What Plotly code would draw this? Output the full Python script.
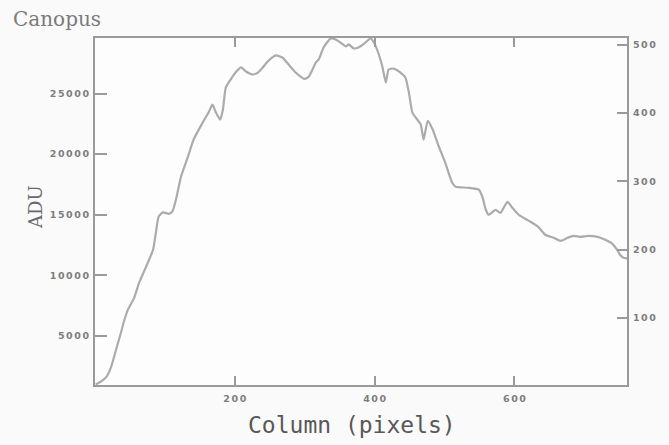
import plotly.graph_objects as go

# Spatial profile of Canopus along the detector columns
columns = [1, 10, 16, 23, 30, 37, 42, 47, 56, 63, 73, 83, 87, 91, 97, 106, 111, 116,
           123, 133, 141, 154, 163, 168, 173, 179, 183, 187, 194, 201, 209, 216, 226,
           233, 240, 247, 259, 268, 277, 287, 294, 300, 306, 316, 320, 327, 337, 344,
           351, 359, 363, 370, 377, 387, 394, 399, 406, 411, 416, 420, 427, 437, 444,
           449, 454, 461, 466, 470, 476, 483, 491, 501, 511, 516, 533, 549, 554, 559,
           563, 573, 580, 590, 597, 606, 623, 634, 644, 656, 666, 676, 684, 694, 706,
           719, 730, 740, 747, 751, 756, 761]
adu = [1000, 1300, 1610, 2440, 3840, 5250, 6320, 7150, 8140, 9380, 10700, 12100, 13500,
       14840, 15200, 15080, 15300, 16300, 18140, 19790, 21200, 22600, 23500, 24090,
       23430, 22850, 23680, 25490, 26150, 26730, 27150, 26820, 26570, 26730, 27150,
       27640, 28140, 27970, 27390, 26730, 26400, 26200, 26400, 27560, 27810, 28800,
       29540, 29460, 29210, 28890, 29050, 28720, 28800, 29210, 29540, 29210, 28220,
       27230, 25900, 26980, 27060, 26730, 26320, 25080, 23430, 22850, 22440, 21200,
       22750, 22030, 20750, 19300, 17640, 17310, 17230, 17070, 16490, 15410, 15000,
       15410, 15160, 16070, 15580, 15000, 14420, 14000, 13350, 13100, 12850, 13100,
       13260, 13180, 13260, 13180, 12930, 12600, 12100, 11700, 11450, 11400]

x_ticks = [200, 400, 600]
y_ticks = [5000, 10000, 15000, 20000, 25000]
y2_ticks = [100, 200, 300, 400, 500]


def spaced(v):
    # widen the digit spacing of tick labels
    return "\u2006".join(str(v))


AXIS = "#9a9a9a"
LABEL = "#7d7d7d"
tickfont = dict(family="DejaVu Sans", size=9.5, color=LABEL, weight="bold")

fig = go.Figure()
fig.add_trace(go.Scatter(x=columns, y=adu, mode="lines",
                         line=dict(color="#ababab", width=2.2, shape="spline", smoothing=0.5),
                         showlegend=False, hoverinfo="skip"))
fig.add_trace(go.Scatter(x=[], y=[], yaxis="y2", showlegend=False))

fig.update_layout(
    width=669, height=445,
    margin=dict(l=95, r=42, t=38, b=60),
    paper_bgcolor="#fafafa",
    plot_bgcolor="#fdfdfd",
    xaxis=dict(range=[0, 761], tickvals=x_ticks, ticktext=[spaced(v) for v in x_ticks],
               ticks="inside", ticklen=9, tickwidth=2, tickcolor=AXIS,
               showline=True, linecolor=AXIS, linewidth=2, mirror="ticks",
               showgrid=False, zeroline=False, tickfont=tickfont,
               ticklabelstandoff=4),
    yaxis=dict(range=[957, 29580], tickvals=y_ticks, ticktext=[spaced(v) for v in y_ticks],
               ticks="inside", ticklen=12, tickwidth=2, tickcolor=AXIS,
               showline=True, linecolor=AXIS, linewidth=2,
               showgrid=False, zeroline=False, tickfont=tickfont,
               ticklabelstandoff=2),
    yaxis2=dict(range=[2, 510], overlaying="y", side="right",
                tickvals=y2_ticks, ticktext=[spaced(v) for v in y2_ticks],
                ticks="inside", ticklen=10, tickwidth=2, tickcolor=AXIS,
                showline=True, linecolor=AXIS, linewidth=2,
                showgrid=False, zeroline=False, tickfont=tickfont,
                ticklabelstandoff=2),
    annotations=[
        dict(text="Canopus", xref="paper", yref="paper", x=-0.158, y=1.055,
             xanchor="left", yanchor="middle", showarrow=False,
             font=dict(family="DejaVu Serif", size=20, color="#7a7a7a")),
        dict(text="ADU", xref="paper", yref="paper", x=-0.111, y=0.513,
             xanchor="center", yanchor="middle", showarrow=False, textangle=-90,
             font=dict(family="DejaVu Serif", size=18, color="#6a6a6a")),
        dict(text="Column (pixels)", xref="paper", yref="paper", x=0.483, y=-0.115,
             xanchor="center", yanchor="middle", showarrow=False,
             font=dict(family="DejaVu Sans Mono", size=23, color="#585858")),
    ],
)

fig.write_html("out.html")
